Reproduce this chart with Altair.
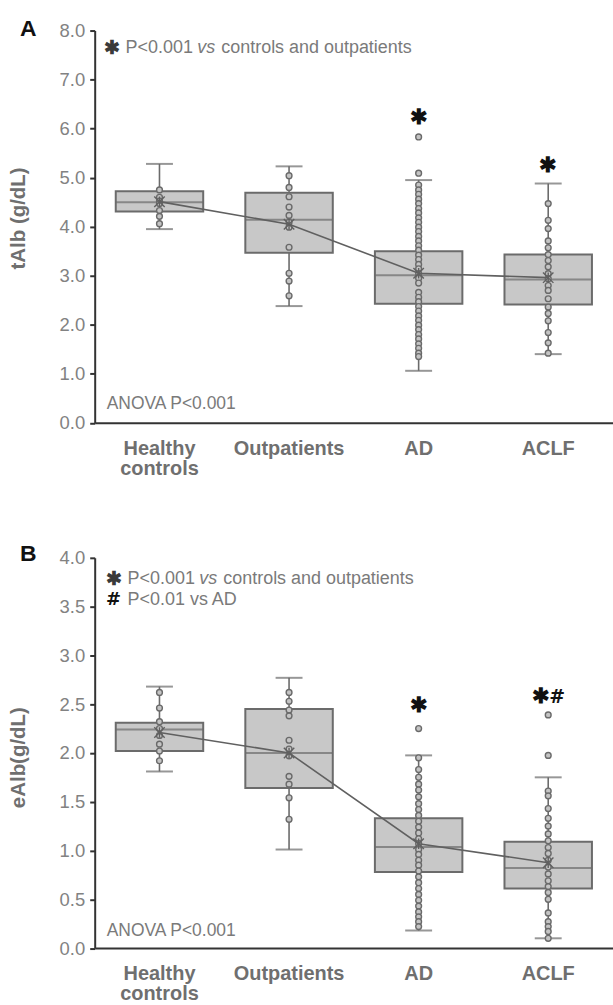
import altair as alt
import pandas as pd

FONT = "Liberation Sans"
SYM_FONT = "DejaVu Sans"
cats = ["Healthy controls", "Outpatients", "AD", "ACLF"]

# ---------------- Panel A : tAlb (g/dL) ----------------
a_q1 = [4.31, 3.47, 2.43, 2.41]
a_med = [4.50, 4.14, 3.01, 2.92]
a_q3 = [4.72, 4.69, 3.50, 3.43]
a_lo = [3.95, 2.38, 1.06, 1.40]
a_hi = [5.28, 5.23, 4.95, 4.88]
a_mean = [4.51, 4.05, 3.05, 2.96]
a_pts_hc = [4.75, 4.60, 4.52, 4.47, 4.33, 4.21, 4.06]
a_pts_op = [5.04, 4.80, 4.61, 4.40, 4.23, 4.09, 3.99, 3.58, 3.05, 2.89, 2.59]
a_pts_ad = [5.83, 5.09, 4.85, 4.75, 4.66, 4.56, 4.47, 4.37, 4.28, 4.18, 4.09,
            3.99, 3.90, 3.80, 3.71, 3.61, 3.52, 3.42, 3.33, 3.23, 3.14, 3.04,
            2.95, 2.85, 2.66, 2.56, 2.47, 2.37, 2.28, 2.18, 2.09, 1.99, 1.90,
            1.80, 1.71, 1.61, 1.52, 1.42, 1.35]
a_pts_aclf = [4.47, 4.13, 3.96, 3.71, 3.57, 3.43, 3.31, 3.18, 3.04, 2.94,
              2.80, 2.70, 2.53, 2.36, 2.23, 2.08, 1.84, 1.63, 1.42]
a_star_cats = ["AD", "ACLF"]
a_star_vals = [6.21, 5.24]
a_hash_cats = []
a_hash_vals = []

# ---------------- Panel B : eAlb (g/dL) ----------------
b_q1 = [2.02, 1.64, 0.78, 0.61]
b_med = [2.24, 2.00, 1.035, 0.82]
b_q3 = [2.31, 2.45, 1.33, 1.09]
b_lo = [1.81, 1.01, 0.18, 0.10]
b_hi = [2.68, 2.77, 1.975, 1.75]
b_mean = [2.21, 2.00, 1.07, 0.875]
b_pts_hc = [2.62, 2.46, 2.32, 2.25, 2.18, 2.09, 2.02, 1.92]
b_pts_op = [2.62, 2.53, 2.44, 2.38, 2.13, 2.04, 1.97, 1.76, 1.68, 1.54, 1.32]
b_pts_ad = [2.25, 1.95, 1.83, 1.75, 1.68, 1.62, 1.55, 1.48, 1.42, 1.36, 1.30,
            1.24, 1.18, 1.12, 1.07, 1.01, 0.96, 0.90, 0.85, 0.79, 0.73, 0.67,
            0.61, 0.55, 0.49, 0.43, 0.37, 0.32, 0.27, 0.22]
b_pts_aclf = [2.39, 1.975, 1.61, 1.56, 1.43, 1.33, 1.25, 1.17, 1.10, 1.03,
              0.97, 0.90, 0.83, 0.76, 0.69, 0.63, 0.57, 0.50, 0.36, 0.27,
              0.22, 0.17, 0.10]
b_star_cats = ["AD", "ACLF"]
b_star_vals = [2.48, 2.57]
b_hash_cats = ["ACLF"]
b_hash_vals = [2.575]

BOX_FILL = "#c8c8c8"
BOX_STROKE = "#6b6b6b"
AXIS_COL = "#333333"
TXT_GRAY = "#7a7a7a"
LAB_GRAY = "#6f6f6f"


def panel(q1, med, q3, lo, hi, mean, pts, star_cats, star_vals, hash_cats,
          hash_vals, ymax, ystep, ytitle, letter, height, legend_lines,
          anova_y, letter_y, title_y):
    box = pd.DataFrame({"cat": cats, "q1": q1, "med": med, "q3": q3,
                        "lo": lo, "hi": hi, "mean": mean})
    prow = []
    for c, vals in zip(cats, pts):
        for v in vals:
            prow.append({"cat": c, "v": v})
    pdf = pd.DataFrame(prow)
    star_df = pd.DataFrame({"cat": star_cats, "v": star_vals})
    hash_df = pd.DataFrame({"cat": hash_cats, "v": hash_vals})

    n = int(round(ymax / ystep))
    ticks = [round(i * ystep, 2) for i in range(n + 1)]

    xenc = alt.X("cat:N", sort=cats, title=None,
                 scale=alt.Scale(paddingInner=0, paddingOuter=0),
                 axis=alt.Axis(labelAngle=0, labelFont=FONT, labelFontSize=20,
                               labelFontWeight="bold", labelColor=LAB_GRAY,
                               ticks=False, domainColor=AXIS_COL,
                               domainWidth=2, labelPadding=16,
                               labelBaseline="top", labelLineHeight=20,
                               labelExpr="datum.label == 'Healthy controls' ? ['Healthy', 'controls'] : datum.label"))
    yscale = alt.Scale(domain=[0, ymax], nice=False, zero=True)
    yaxis = alt.Axis(values=ticks, format=".1f", grid=False, title=ytitle,
                     titleFont=FONT, titleFontSize=20.5, titleFontWeight="bold",
                     titleColor=LAB_GRAY, titleAngle=-90, titleX=-76,
                     titleY=title_y, titleAlign="center",
                     titleBaseline="middle", labelFont=FONT, labelFontSize=18.5,
                     labelColor="#828282", labelPadding=5, tickSize=5,
                     tickColor=AXIS_COL, tickWidth=2, domainColor=AXIS_COL,
                     domainWidth=2)

    base = alt.Chart(box)
    whisk = base.mark_rule(color=BOX_STROKE, strokeWidth=1.6).encode(
        x=xenc, y=alt.Y("lo:Q", scale=yscale, axis=yaxis), y2="hi:Q")
    cap_hi = base.mark_tick(color=BOX_STROKE, size=27, thickness=2,
                            orient="horizontal").encode(
        x=alt.X("cat:N", sort=cats), y=alt.Y("hi:Q"))
    cap_lo = base.mark_tick(color=BOX_STROKE, size=27, thickness=2,
                            orient="horizontal").encode(
        x=alt.X("cat:N", sort=cats), y=alt.Y("lo:Q"))
    rect = base.mark_bar(fill=BOX_FILL, stroke=BOX_STROKE, strokeWidth=2,
                         width=alt.RelativeBandSize(0.675)).encode(
        x=alt.X("cat:N", sort=cats), y="q3:Q", y2="q1:Q")
    medl = base.mark_tick(color=BOX_STROKE, size=88, thickness=2,
                          orient="horizontal").encode(
        x=alt.X("cat:N", sort=cats), y="med:Q")
    dots = alt.Chart(pdf).mark_point(shape="circle", filled=True,
                                     fill="#c4c4c4", stroke="#6a6a6a",
                                     strokeWidth=1.4, size=34,
                                     opacity=1).encode(
        x=alt.X("cat:N", sort=cats), y="v:Q")
    mline = base.mark_line(color="#606060", strokeWidth=1.6).encode(
        x=alt.X("cat:N", sort=cats), y="mean:Q")
    mpt = base.mark_point(shape="M-1,-1L1,1M-1,1L1,-1M0,-1L0,1",
                          filled=False, color="#606060", strokeWidth=1.4,
                          size=110, opacity=1).encode(
        x=alt.X("cat:N", sort=cats), y="mean:Q")
    layers = [whisk, cap_hi, cap_lo, rect, medl, dots, mline, mpt]

    plain = [c for c in star_cats if c not in hash_cats]
    if plain:
        layers.append(alt.Chart(star_df).transform_filter(
            alt.FieldOneOfPredicate(field="cat", oneOf=plain)
        ).mark_text(font=FONT, fontSize=21, fontWeight="bold",
                    color="#111111", baseline="middle", align="center",
                    text="\u2731").encode(
            x=alt.X("cat:N", sort=cats), y="v:Q"))
    if hash_cats:
        layers.append(alt.Chart(star_df).transform_filter(
            alt.FieldOneOfPredicate(field="cat", oneOf=hash_cats)
        ).mark_text(font=FONT, fontSize=21, fontWeight="bold",
                    color="#111111", baseline="middle", align="center",
                    dx=-7, text="\u2731").encode(
            x=alt.X("cat:N", sort=cats), y="v:Q"))
        layers.append(alt.Chart(hash_df).mark_text(
            font=SYM_FONT, fontSize=19, fontWeight="bold", color="#111111",
            baseline="middle", align="center", dx=9, text="#").encode(
            x=alt.X("cat:N", sort=cats), y="v:Q"))

    one = pd.DataFrame({"k": [0]})
    for (sym, sx, sym_col, sym_font, sym_size, pieces, ly) in legend_lines:
        layers.append(alt.Chart(one).mark_text(
            font=sym_font, fontSize=sym_size, fontWeight="bold", color=sym_col,
            align="center", baseline="middle", text=sym).encode(
            x=alt.value(sx), y=alt.value(ly)))
        for (txt, px, ital) in pieces:
            layers.append(alt.Chart(one).mark_text(
                font=FONT, fontSize=18, color=TXT_GRAY, align="left",
                baseline="middle", fontStyle="italic" if ital else "normal",
                text=txt).encode(x=alt.value(px), y=alt.value(ly)))
    layers.append(alt.Chart(one).mark_text(
        font=FONT, fontSize=17.5, color=TXT_GRAY, align="left",
        baseline="middle", text="ANOVA P<0.001").encode(
        x=alt.value(12), y=alt.value(anova_y)))
    layers.append(alt.Chart(one).mark_text(
        font=FONT, fontSize=23, fontWeight="bold", color="#111111",
        align="left", baseline="alphabetic", text=letter).encode(
        x=alt.value(-75), y=alt.value(letter_y)))
    return alt.layer(*layers).properties(width=520, height=height)


chart_a = panel(a_q1, a_med, a_q3, a_lo, a_hi, a_mean,
                [a_pts_hc, a_pts_op, a_pts_ad, a_pts_aclf],
                a_star_cats, a_star_vals, a_hash_cats, a_hash_vals, 8.0, 1.0,
                "tAlb (g/dL)", "A", 393.5,
                [("\u2731", 17, "#3a3a3a", FONT, 19,
                  [("P<0.001", 31, False), ("vs", 103, True),
                   ("controls and outpatients", 127, False)], 17.5)],
                375, 5.5, 188)
chart_b = panel(b_q1, b_med, b_q3, b_lo, b_hi, b_mean,
                [b_pts_hc, b_pts_op, b_pts_ad, b_pts_aclf],
                b_star_cats, b_star_vals, b_hash_cats, b_hash_vals, 4.0, 0.5,
                "eAlb(g/dL)", "B", 391.5,
                [("\u2731", 19, "#3a3a3a", FONT, 19,
                  [("P<0.001", 33, False), ("vs", 105, True),
                   ("controls and outpatients", 129, False)], 21.5),
                 ("#", 19, "#111111", SYM_FONT, 18,
                  [("P<0.01 vs AD", 33, False)], 42)],
                374, 3, 200)

chart = alt.vconcat(chart_a, chart_b, spacing=135, bounds="flush").properties(
    padding={"left": 9, "top": 16, "right": 0, "bottom": 5},
    background="white",
).configure_view(stroke=None)

chart.save("out.html", embed_options={"renderer": "svg", "actions": False})
